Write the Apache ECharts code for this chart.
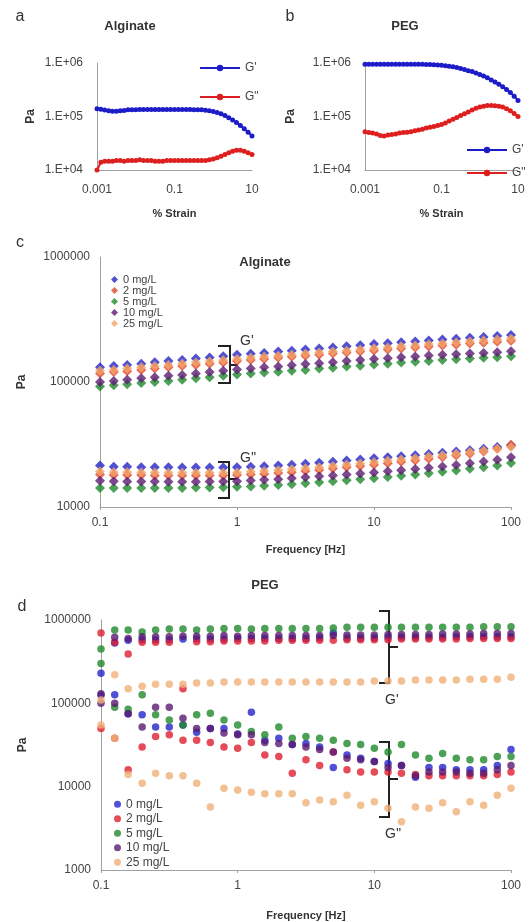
<!DOCTYPE html>
<html><head><meta charset="utf-8">
<script src="https://cdn.jsdelivr.net/npm/echarts@6/dist/echarts.min.js"></script>
<style>html,body{margin:0;padding:0;background:#fff}#c{width:531px;height:922px}</style>
</head><body><div id="c"></div>
<script>
// ---------- Data ----------
const strain = [0.001,0.00126,0.00158,0.002,0.00251,0.00316,0.00398,0.00501,0.00631,0.00794,
  0.01,0.0126,0.0158,0.02,0.0251,0.0316,0.0398,0.0501,0.0631,0.0794,
  0.1,0.126,0.158,0.2,0.251,0.316,0.398,0.501,0.631,0.794,
  1,1.26,1.58,2,2.51,3.16,3.98,5.01,6.31,7.94,10];
const algGp = [140000,136000,132000,128000,126000,126000,128000,130000,133000,134000,
  134000,135000,135000,135000,135000,135000,135000,135000,135000,135000,
  135000,135000,135000,135000,135000,134000,134000,133000,131000,128000,
  124000,119000,112000,104000,95000,86000,77000,68000,59000,51000,43000];
const algGpp = [10000,14000,14500,14500,14500,15000,15000,14500,15000,15000,
  15000,15500,15000,15000,15000,14500,14500,14500,15000,15000,
  15000,15000,15000,15000,15000,15000,15000,15000,15000,15500,
  16000,17000,18000,19500,21000,22500,23500,23500,22500,21000,19500];
const pegGp = [950000,950000,950000,950000,950000,950000,950000,950000,950000,950000,
  950000,950000,950000,950000,950000,950000,940000,940000,930000,920000,
  910000,890000,870000,850000,820000,790000,760000,720000,690000,650000,
  610000,570000,530000,480000,440000,400000,360000,320000,280000,240000,200000];
const pegGpp = [52000,50000,49000,47000,44000,43000,45000,46000,47000,49000,
  50000,51000,52000,54000,56000,58000,61000,63000,65000,68000,
  71000,76000,82000,89000,96000,104000,112000,122000,132000,142000,
  150000,156000,160000,160000,158000,156000,150000,140000,128000,114000,100000];

const freq = [0.1,0.126,0.158,0.2,0.251,0.316,0.398,0.501,0.631,0.794,
  1,1.26,1.58,2,2.51,3.16,3.98,5.01,6.31,7.94,
  10,12.6,15.8,20,25.1,31.6,39.8,50.1,63.1,79.4,100];
const concLabels = ['0 mg/L','2 mg/L','5 mg/L','10 mg/L','25 mg/L'];

// Panel c (Alginate) G'
const cGp0  = [131000,134000,137000,140000,144000,147000,150000,154000,157000,161000,165000,168000,171000,175000,178000,182000,185000,189000,193000,197000,201000,204000,208000,211000,215000,219000,222000,226000,229000,233000,238000];
const cGp2  = [117000,120000,122000,125000,128000,131000,134000,137000,140000,143000,147000,150000,153000,156000,159000,162000,165000,169000,172000,175000,179000,182000,185000,189000,192000,196000,199000,203000,206000,210000,214000];
const cGp5  = [92000,94000,96000,98000,100000,102000,104000,107000,109000,112000,115000,117000,119000,121000,123000,125000,128000,130000,133000,135000,138000,140000,143000,145000,147000,150000,152000,154000,156000,158000,161000];
const cGp10 = [100000,102000,104000,107000,109000,112000,114000,117000,120000,123000,126000,128000,131000,133000,136000,139000,141000,144000,147000,150000,153000,155000,158000,160000,163000,165000,167000,169000,171000,173000,176000];
const cGp25 = [123000,125000,128000,131000,134000,137000,140000,143000,146000,149000,153000,156000,159000,162000,165000,168000,172000,175000,178000,182000,186000,189000,193000,196000,200000,203000,207000,211000,215000,219000,222000];
// Panel c G''
const cGpp0  = [21500,21000,21000,20800,20800,20800,20700,20700,20700,20700,20800,21000,21200,21500,21800,22200,22600,23000,23500,24000,24500,25000,25500,26000,26600,27200,27800,28500,29300,30200,31000];
const cGpp2  = [18200,18000,18000,18000,17900,17900,17900,17900,17900,17900,18000,18200,18400,18700,19000,19400,19800,20300,20800,21300,21800,22400,23000,23600,24300,25000,25800,26700,27800,29200,31500];
const cGpp5  = [14200,14200,14200,14200,14200,14200,14200,14300,14300,14400,14500,14600,14800,15000,15200,15500,15800,16100,16400,16700,17000,17400,17800,18200,18600,19100,19600,20200,20800,21500,22500];
const cGpp10 = [16200,16100,16000,16000,16000,15900,15900,15900,16000,16000,16100,16300,16500,16700,17000,17300,17600,17900,18200,18500,18900,19300,19700,20100,20600,21100,21700,22400,23100,23900,25000];
const cGpp25 = [19200,19000,19000,18900,18900,18800,18800,18800,18800,18800,18900,19100,19400,19700,20000,20400,20800,21300,21800,22300,22800,23400,24000,24600,25300,26000,26700,27500,28300,29200,30200];

// Panel d (PEG) G'
const dGp0  = [230000,530000,570000,580000,580000,580000,590000,590000,590000,590000,600000,600000,600000,600000,600000,600000,610000,700000,610000,610000,610000,620000,620000,620000,620000,620000,630000,630000,630000,630000,630000];
const dGp2  = [700000,540000,390000,540000,540000,540000,150000,550000,550000,560000,560000,560000,560000,570000,570000,570000,570000,570000,580000,580000,580000,580000,590000,590000,590000,590000,590000,600000,600000,600000,600000];
const dGp5  = [450000,760000,760000,720000,760000,780000,780000,760000,780000,790000,790000,780000,790000,790000,790000,790000,790000,800000,820000,820000,820000,820000,820000,820000,820000,820000,820000,820000,830000,830000,830000];
const dGp10 = [130000,620000,600000,630000,630000,630000,640000,640000,640000,650000,640000,650000,650000,650000,650000,650000,650000,650000,660000,660000,660000,670000,670000,670000,670000,680000,680000,680000,690000,690000,690000];
const dGp25 = [110000,220000,150000,160000,170000,170000,170000,175000,175000,180000,180000,180000,180000,180000,180000,180000,180000,180000,180000,180000,185000,185000,185000,190000,190000,190000,190000,195000,195000,195000,205000];
// Panel d G''
const dGpp0  = [125000,127000,75000,73000,52000,52000,55000,45000,50000,50000,43000,78000,36000,38000,32000,33000,30000,17000,24000,22000,20000,19000,18000,13000,17000,17000,16000,16000,16000,18000,28000];
const dGpp2  = [50000,38000,16000,30000,40000,42000,36000,36000,34000,30000,29000,34000,24000,23000,14500,21000,18000,26000,16000,15000,15000,15000,14500,14000,13500,13500,13500,13500,13500,14000,15000];
const dGpp5  = [300000,90000,85000,127000,73000,63000,55000,73000,76000,63000,55000,46000,42000,52000,38000,40000,38000,36000,33000,32000,29000,26000,32000,24000,22000,25000,22000,21000,21000,23000,23000];
const dGpp10 = [100000,100000,75000,52000,90000,90000,66000,50000,50000,44000,42000,42000,34000,33000,32000,30000,28000,26000,22000,21000,20000,17000,18000,13500,15000,15000,15000,14500,14500,16000,18000];
const dGpp25 = [55000,38000,14000,11000,14500,13500,13500,11000,5700,9600,9100,8600,8200,8200,8200,6400,6900,6600,7900,6000,6600,5500,3800,5700,5500,6400,5000,6600,6000,7900,9600];

// ---------- Chart ----------
const FONT = 'Liberation Sans, Arial, sans-serif';
const AXIS_GREY = '#a0a0a0';
const LABEL_COL = '#444';
const expOf = v => Math.round(Math.log10(v));
const decStr = e => e >= 0 ? '1' + '0'.repeat(e) : '0.' + '0'.repeat(-e - 1) + '1';
const sciStr = v => { const e = expOf(v); return '1.E' + (e < 0 ? '-' : '+') + String(Math.abs(e)).padStart(2, '0'); };
const pair = (xs, ys) => xs.map((x, i) => [x, ys[i]]);
const nameFmt = n => n.split('|')[1];

function xAxisStrain(gi) {
  return {
    type: 'log', logBase: 10, gridIndex: gi, min: 0.001, max: 10,
    axisLine: { show: true, lineStyle: { color: AXIS_GREY, width: 1 } },
    axisTick: { show: false }, splitLine: { show: false },
    axisLabel: { color: LABEL_COL, fontFamily: FONT, fontSize: 12, margin: 14,
      formatter: v => (Math.abs(expOf(v)) % 2 === 1 ? decStr(expOf(v)) : '') },
    name: '% Strain', nameLocation: 'middle', nameGap: 38,
    nameTextStyle: { fontFamily: FONT, fontWeight: 'bold', fontSize: 11, color: '#333' }
  };
}
function yAxisSci(gi, gap) {
  return {
    type: 'log', logBase: 10, gridIndex: gi, min: 1e4, max: 1e6,
    axisLine: { show: true, lineStyle: { color: AXIS_GREY, width: 1 } },
    axisTick: { show: false }, splitLine: { show: false },
    axisLabel: { color: LABEL_COL, fontFamily: FONT, fontSize: 12, margin: 14, formatter: sciStr },
    name: 'Pa', nameLocation: 'middle', nameGap: gap,
    nameTextStyle: { fontFamily: FONT, fontWeight: 'bold', fontSize: 12, color: '#333' }
  };
}
function xAxisFreq(gi, gap) {
  return {
    type: 'log', logBase: 10, gridIndex: gi, min: 0.1, max: 100,
    axisLine: { show: true, lineStyle: { color: AXIS_GREY, width: 1 } },
    axisTick: { show: true, length: 3, lineStyle: { color: AXIS_GREY } }, splitLine: { show: false },
    axisLabel: { color: LABEL_COL, fontFamily: FONT, fontSize: 12, margin: 10, formatter: v => decStr(expOf(v)) },
    name: 'Frequency [Hz]', nameLocation: 'middle', nameGap: gap,
    nameTextStyle: { fontFamily: FONT, fontWeight: 'bold', fontSize: 11, color: '#333' }
  };
}
function yAxisPlain(gi, min) {
  return {
    type: 'log', logBase: 10, gridIndex: gi, min: min, max: 1e6,
    axisLine: { show: true, lineStyle: { color: AXIS_GREY, width: 1 } },
    axisTick: { show: false }, splitLine: { show: false },
    axisLabel: { color: LABEL_COL, fontFamily: FONT, fontSize: 12, margin: 10, formatter: v => decStr(expOf(v)) },
    name: 'Pa', nameLocation: 'middle', nameGap: 72,
    nameTextStyle: { fontFamily: FONT, fontWeight: 'bold', fontSize: 12, color: '#333' }
  };
}

const BLUE = '#1c1cc8', RED = '#dd1f1f';
const cColors = ['#2424c4', '#e2482c', '#1f8a2c', '#5c1c72', '#f2a468'];
const dColors = ['#2424cc', '#e01e30', '#1f8a2c', '#5a1a70', '#f0b078'];
const cGpSets = [cGp0, cGp2, cGp5, cGp10, cGp25];
const cGppSets = [cGpp0, cGpp2, cGpp5, cGpp10, cGpp25];
const dGpSets = [dGp0, dGp2, dGp5, dGp10, dGp25];
const dGppSets = [dGpp0, dGpp2, dGpp5, dGpp10, dGpp25];

const series = [];
function strainSeries(prefix, gi, gp, gpp) {
  series.push({ type: 'line', name: prefix + "|G'", xAxisIndex: gi, yAxisIndex: gi, data: pair(strain, gp),
    symbol: 'circle', symbolSize: 5, color: BLUE, lineStyle: { width: 2, color: BLUE }, itemStyle: { color: BLUE } });
  series.push({ type: 'line', name: prefix + '|G"', xAxisIndex: gi, yAxisIndex: gi, data: pair(strain, gpp),
    symbol: 'circle', symbolSize: 5, color: RED, lineStyle: { width: 2, color: RED }, itemStyle: { color: RED } });
}
strainSeries('a', 0, algGp, algGpp);
strainSeries('b', 1, pegGp, pegGpp);
concLabels.forEach((lab, k) => {
  [cGpSets[k], cGppSets[k]].forEach(arr => series.push({
    type: 'scatter', name: 'c|' + lab, xAxisIndex: 2, yAxisIndex: 2, data: pair(freq, arr),
    symbol: 'diamond', symbolSize: 10, itemStyle: { color: cColors[k] }, color: cColors[k]
  }));
});
concLabels.forEach((lab, k) => {
  [dGpSets[k], dGppSets[k]].forEach(arr => series.push({
    type: 'scatter', name: 'd|' + lab, xAxisIndex: 3, yAxisIndex: 3, data: pair(freq, arr),
    symbol: 'circle', symbolSize: 7.5, itemStyle: { color: dColors[k] }, color: dColors[k]
  }));
});

const legendText = { fontFamily: FONT, fontSize: 12, color: LABEL_COL };
const option = {
  animation: false,
  backgroundColor: '#fff',
  grid: [
    { left: 97, top: 63, width: 155, height: 107 },
    { left: 365, top: 63, width: 153, height: 107 },
    { left: 100, top: 257, width: 411, height: 250 },
    { left: 101, top: 620, width: 410, height: 250 }
  ],
  xAxis: [xAxisStrain(0), xAxisStrain(1), xAxisFreq(2, 37), xAxisFreq(3, 40)],
  yAxis: [yAxisSci(0, 60), yAxisSci(1, 68), yAxisPlain(2, 1e4), yAxisPlain(3, 1e3)],
  legend: [
    { data: ["a|G'", 'a|G"'], formatter: nameFmt, orient: 'vertical', left: 194, top: 57, itemGap: 17,
      itemWidth: 40, itemHeight: 8, textStyle: legendText, selectedMode: false },
    { data: ["b|G'", 'b|G"'], formatter: nameFmt, orient: 'vertical', left: 461, top: 139, itemGap: 11,
      itemWidth: 40, itemHeight: 8, textStyle: legendText, selectedMode: false },
    { data: concLabels.map(n => ({ name: 'c|' + n, icon: 'diamond' })), formatter: nameFmt, orient: 'vertical',
      left: 106, top: 269, itemGap: 0, itemWidth: 7, itemHeight: 7,
      textStyle: { fontFamily: FONT, fontSize: 11, color: LABEL_COL, lineHeight: 11 }, selectedMode: false },
    { data: concLabels.map(n => ({ name: 'd|' + n, icon: 'circle' })), formatter: nameFmt, orient: 'vertical',
      left: 109, top: 793, itemGap: 2, itemWidth: 7, itemHeight: 7,
      textStyle: { fontFamily: FONT, fontSize: 12, color: LABEL_COL, lineHeight: 12.5 }, selectedMode: false }
  ],
  series: series
};

const chart = echarts.init(document.getElementById('c'), null, { renderer: 'canvas' });
chart.setOption(option);

// ---------- Annotations (titles, panel letters, brackets) ----------
const txt = (x, y, text, font, align) => ({ type: 'text', x: x, y: y, silent: true,
  style: { text: text, font: font, fill: '#333', align: align || 'center', verticalAlign: 'middle',
    textAlign: align || 'center', textVerticalAlign: 'middle' } });
function bracket(xl, xv, xt, top, mid, bot) {
  return { type: 'polyline', silent: true,
    shape: { points: [[xl, top], [xv, top], [xv, mid], [xt, mid], [xv, mid], [xv, bot], [xl, bot]] },
    style: { stroke: '#222', lineWidth: 2, fill: null } };
}
const titleFont = 'bold 13px ' + FONT;
const letterFont = '16px ' + FONT;
const annFont = '14px ' + FONT;
chart.setOption({ graphic: [
  txt(20, 17, 'a', letterFont), txt(290, 17, 'b', letterFont),
  txt(20, 243, 'c', letterFont), txt(22, 607, 'd', letterFont),
  txt(130, 26, 'Alginate', titleFont), txt(405, 26, 'PEG', titleFont),
  txt(265, 262, 'Alginate', titleFont), txt(265, 585, 'PEG', titleFont),
  bracket(218, 230, 238, 346, 365, 383), txt(240, 341, "G'", annFont, 'left'),
  bracket(218, 229, 237, 462, 479, 498), txt(240, 458, "G''", annFont, 'left'),
  bracket(379, 389, 398, 611, 647, 683), txt(385, 700, "G'", annFont, 'left'),
  bracket(379, 389, 398, 742, 779, 817), txt(385, 834, "G''", annFont, 'left')
] });
</script></body></html>
